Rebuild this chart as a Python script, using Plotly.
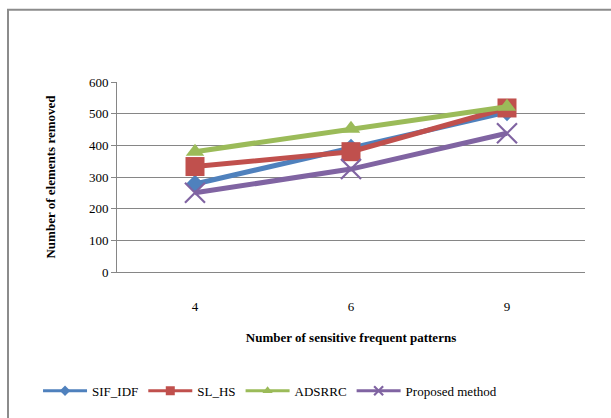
import plotly.graph_objects as go

# Number of sensitive frequent patterns (category axis)
patterns = ["4", "6", "9"]

# Number of elements removed for each method
sif_idf = [278, 392, 505]
sl_hs = [333, 380, 518]
adsrrc = [380, 452, 522]
proposed = [250, 325, 438]

y_ticks = [0, 100, 200, 300, 400, 500, 600]

# name, values, colour, plot marker, legend marker
series = [
    ("SIF_IDF", sif_idf, "#4F81BD", ("diamond", 14), ("diamond", 8)),
    ("SL_HS", sl_hs, "#C0504D", ("square", 19), ("square", 9)),
    ("ADSRRC", adsrrc, "#9BBB59", ("triangle-up", 16), ("triangle-up", 9)),
    ("Proposed method", proposed, "#8064A2", ("x-thin-open", 20), ("x-thin-open", 9)),
]


def make_marker(color, symbol, size):
    m = dict(color=color, symbol=symbol, size=size)
    if symbol.startswith("x-thin"):
        m["line"] = dict(color=color, width=2.2)
    return m


fig = go.Figure()
for name, vals, color, (sym, size), _ in series:
    fig.add_trace(go.Scatter(
        x=patterns, y=vals, name=name, mode="lines+markers",
        line=dict(color=color, width=5),
        marker=make_marker(color, sym, size),
        showlegend=False,
    ))

# Legend entries with smaller symbols and thinner lines
for name, vals, color, _, (sym, size) in series:
    fig.add_trace(go.Scatter(
        x=[None], y=[None], name=name, mode="lines+markers",
        line=dict(color=color, width=3),
        marker=make_marker(color, sym, size),
        showlegend=True,
    ))

font_family = "Liberation Serif"

fig.update_layout(
    width=611, height=418,
    margin=dict(l=117, r=26, t=82, b=144),
    paper_bgcolor="white", plot_bgcolor="white",
    font=dict(family=font_family, size=13, color="black"),
    showlegend=True,
    legend=dict(
        orientation="h", x=0.327, xanchor="center", y=-0.625, yanchor="middle",
        font=dict(family=font_family, size=13, color="black"),
        itemwidth=44, tracegroupgap=0,
    ),
    xaxis=dict(
        type="category", range=[-0.5, 2.5],
        showgrid=False, showline=True, linecolor="#868686", linewidth=1,
        ticks="", ticklabelstandoff=22,
        tickfont=dict(family=font_family, size=13),
        title=dict(text="<b>Number of sensitive frequent patterns</b>",
                   font=dict(family=font_family, size=13), standoff=20),
        zeroline=False,
    ),
    yaxis=dict(
        range=[0, 600], tickvals=y_ticks,
        showgrid=True, gridcolor="#868686", gridwidth=1,
        showline=True, linecolor="#868686", linewidth=1,
        ticks="outside", ticklen=5, tickcolor="#868686",
        tickfont=dict(family=font_family, size=13),
        title=dict(text="<b>Number of elements removed</b>",
                   font=dict(family=font_family, size=13), standoff=30),
        zeroline=False,
    ),
    shapes=[dict(
        type="rect", xref="paper", yref="paper",
        x0=(8 - 117) / 468, x1=(640 - 117) / 468,
        y0=(274 - 440) / 192, y1=(274 - 9) / 192,
        line=dict(color="#8c8c8c", width=2), fillcolor="rgba(0,0,0,0)",
        layer="below",
    )],
)

fig.write_html("out.html")
